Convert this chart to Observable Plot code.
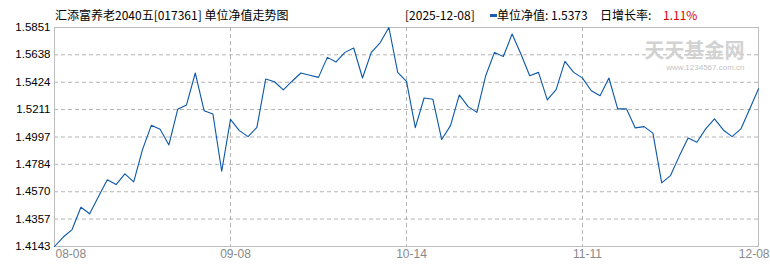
<!DOCTYPE html>
<html>
<head>
<meta charset="utf-8">
<script src="https://cdn.jsdelivr.net/npm/d3@7"></script>
<script src="https://cdn.jsdelivr.net/npm/@observablehq/plot@0.6"></script>
<style>
  html, body { margin: 0; padding: 0; background: #fff; }
  #wrap { position: relative; width: 770px; height: 270px; overflow: hidden; }
  #chart { position: absolute; left: 0; top: 0; }
  .hd { position: absolute; top: 7px; font-family: "Noto Sans CJK SC", sans-serif; font-size: 12px; line-height: 16px; color: #000; white-space: nowrap; }
  #mk { position: absolute; left: 490px; top: 14px; width: 7px; height: 3px; background: #1a5cb0; }
</style>
</head>
<body>
<div id="wrap">
  <div id="chart"></div>
  <div class="hd" style="left:55px;">汇添富养老2040五[017361] 单位净值走势图</div>
  <div class="hd" style="left:405px;">[2025-12-08]</div>
  <div id="mk"></div>
  <div class="hd" style="left:497px;">单位净值: 1.5373</div>
  <div class="hd" style="left:600px;">日增长率:</div>
  <div class="hd" style="left:663px; color:#e00000;">1.11%</div>
</div>
<script>
// Tick labels for the x axis (trading-day index → label)
const xTickIdx = [0, 20, 40, 60, 80];
const xTickLabels = ["08-08", "09-08", "10-14", "11-11", "12-08"];
// Y-axis tick values
const yTicks = [1.4143, 1.4357, 1.4570, 1.4784, 1.4997, 1.5211, 1.5424, 1.5638, 1.5851];
// Unit NAV per trading day (81 points, 2025-08-08 … 2025-12-08)
const nav = [
  1.4143, 1.4217, 1.4275, 1.4449, 1.4398, 1.4533, 1.4663, 1.4626, 1.4709, 1.4647,
  1.4899, 1.5088, 1.5057, 1.4935, 1.5213, 1.5247, 1.5496, 1.5202, 1.5177, 1.4730,
  1.5135, 1.5047, 1.5000, 1.5072, 1.5449, 1.5428, 1.5364, 1.5432, 1.5496, 1.5479,
  1.5462, 1.5618, 1.5582, 1.5657, 1.5691, 1.5457, 1.5657, 1.5732, 1.5851, 1.5501,
  1.5431, 1.5070, 1.5301, 1.5291, 1.4977, 1.5086, 1.5325, 1.5234, 1.5189, 1.5475,
  1.5657, 1.5625, 1.5800, 1.5644, 1.5475, 1.5501, 1.5286, 1.5366, 1.5587, 1.5501,
  1.5456, 1.5358, 1.5319, 1.5457, 1.5216, 1.5216, 1.5068, 1.5078, 1.5027, 1.4639,
  1.4696, 1.4848, 1.4990, 1.4956, 1.5060, 1.5138, 1.5052, 1.5000, 1.5060, 1.5216,
  1.5373
];
const watermark = "天天基金网";
const watermarkUrl = "www.1234567.com.cn";

const xTicks = xTickIdx.map((x, i) => ({x, label: xTickLabels[i]}));
const grid = {stroke: "#b4b4b4", strokeOpacity: 1, strokeDasharray: "4,3"};

const chart = Plot.plot({
  width: 770,
  height: 270,
  marginLeft: 54,
  marginRight: 12,
  marginTop: 27,
  marginBottom: 24,
  style: {background: "transparent", fontFamily: "'Liberation Sans', Arial, sans-serif"},
  x: {domain: [xTickIdx[0], xTickIdx[xTickIdx.length - 1]], axis: null},
  y: {domain: [yTicks[0], yTicks[yTicks.length - 1]], axis: null},
  marks: [
    Plot.gridY(yTicks.slice(1, -1), grid),
    Plot.gridX(xTickIdx.slice(1, -1), grid),
    Plot.frame({stroke: "#bdbdbd"}),
    Plot.text([watermark], {frameAnchor: "top-right", dx: -14, dy: 16, text: d => d, fontSize: 20, fontWeight: "bold", fill: "#d2d2d2", fontFamily: "'Noto Sans CJK SC', sans-serif", textAnchor: "end", letterSpacing: "1px"}),
    Plot.text([watermarkUrl], {frameAnchor: "top-right", dx: -14, dy: 37, text: d => d, fontSize: 8, fill: "#c4c4c4", textAnchor: "end", letterSpacing: "1.6px"}),
    Plot.line(nav, {x: (d, i) => i, y: d => d, stroke: "#0b57a8", strokeWidth: 1.1}),
    Plot.axisY(yTicks, {tickSize: 0, tickPadding: 4, tickFormat: d => d.toFixed(4), fontSize: 11.5, fill: "#000", label: null}),
    Plot.text(xTicks.slice(0, 1), {x: "x", text: "label", frameAnchor: "bottom", dy: 11, textAnchor: "start", dx: 1, fill: "#888", fontSize: 12}),
    Plot.text(xTicks.slice(1, -1), {x: "x", text: "label", frameAnchor: "bottom", dy: 11, textAnchor: "middle", dx: 5, fill: "#888", fontSize: 12}),
    Plot.text(xTicks.slice(-1), {x: "x", text: "label", frameAnchor: "bottom", dy: 11, textAnchor: "end", dx: 11, fill: "#888", fontSize: 12})
  ]
});
document.getElementById("chart").appendChild(chart);
</script>
</body>
</html>
